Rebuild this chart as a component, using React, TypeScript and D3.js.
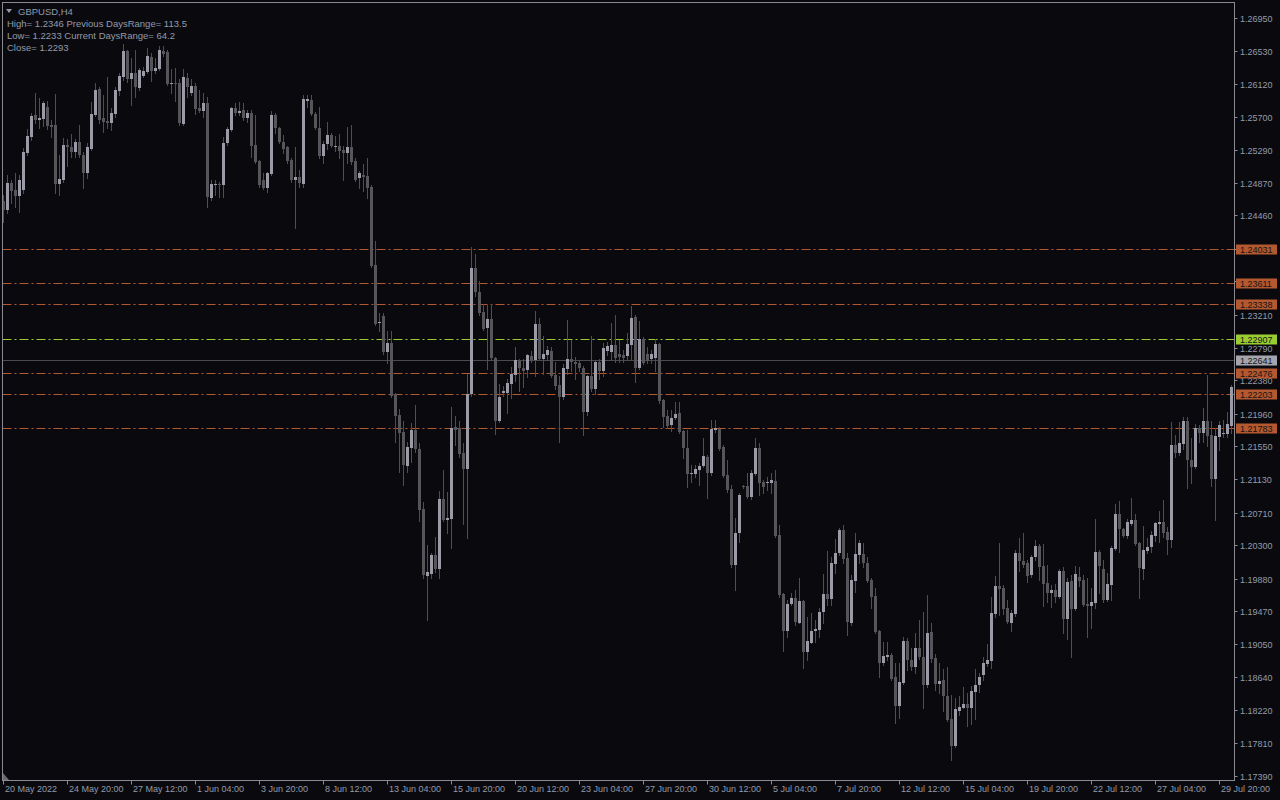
import React from "react";
import * as d3 from "d3";

// ---- DATA (GBPUSD H4 candles) ----
const open = [
1.2464,1.2453,1.2487,1.2478,1.2471,1.2478,1.2525,1.2545,1.2573,1.2566,1.2568,1.2583,1.2560,1.2560,1.2486,1.2491,1.2535,1.2532,1.2526,1.2539,
1.2522,1.2499,1.2530,1.2573,1.2605,1.2569,1.2565,1.2563,1.2574,1.2603,1.2621,1.2653,1.2618,1.2626,1.2607,1.2622,1.2627,1.2646,1.2628,1.2631,
1.2653,1.2652,1.2612,1.2613,1.2613,1.2561,1.2619,1.2600,1.2609,1.2582,1.2578,1.2588,1.2468,1.2484,1.2486,1.2484,1.2537,1.2554,1.2582,1.2575,
1.2579,1.2569,1.2575,1.2535,1.2515,1.2491,1.2481,1.2498,1.2573,1.2556,1.2539,1.2532,1.2516,1.2491,1.2494,1.2486,1.2590,1.2592,1.2574,1.2556,
1.2521,1.2536,1.2547,1.2532,1.2533,1.2529,1.2525,1.2532,1.2515,1.2493,1.2497,1.2496,1.2482,1.2383,1.2310,1.2319,1.2274,1.2285,1.2221,1.2194,
1.2173,1.2130,1.2153,1.2175,1.2151,1.2076,1.1991,1.1994,1.2018,1.2000,1.2088,1.2062,1.2063,1.2179,1.2178,1.2146,1.2126,1.2221,1.2380,1.2349,
1.2324,1.2304,1.2315,1.2266,1.2187,1.2222,1.2222,1.2233,1.2245,1.2262,1.2254,1.2251,1.2269,1.2264,1.2309,1.2265,1.2270,1.2275,1.2245,1.2232,
1.2217,1.2252,1.2265,1.2261,1.2260,1.2254,1.2198,1.2244,1.2227,1.2261,1.2250,1.2275,1.2274,1.2283,1.2271,1.2270,1.2269,1.2283,1.2318,1.2254,
1.2290,1.2271,1.2265,1.2266,1.2284,1.2213,1.2193,1.2182,1.2190,1.2197,1.2174,1.2153,1.2120,1.2120,1.2125,1.2130,1.2141,1.2121,1.2175,1.2177,
1.2154,1.2119,1.2101,1.2005,1.2046,1.2105,1.2105,1.2091,1.2120,1.2153,1.2110,1.2108,1.2108,1.2111,1.2043,1.1969,1.1922,1.1956,1.1964,1.1932,
1.1960,1.1895,1.1907,1.1922,1.1923,1.1946,1.1969,1.1962,1.2006,1.2020,1.2049,1.2014,1.1932,1.1985,1.2018,1.2019,1.2008,1.1986,1.1966,1.1922,
1.1882,1.1889,1.1892,1.1864,1.1827,1.1856,1.1909,1.1885,1.1876,1.1900,1.1889,1.1854,1.1921,1.1888,1.1855,1.1860,1.1840,1.1811,1.1777,1.1821,
1.1825,1.1830,1.1825,1.1845,1.1854,1.1866,1.1880,1.1884,1.1943,1.1979,1.1976,1.1951,1.1932,1.1943,1.2020,1.2010,1.2008,1.1992,1.2015,1.2029,
1.2004,1.1982,1.1970,1.1974,1.1965,1.1997,1.1937,1.1985,1.1950,1.1990,1.1986,1.1956,1.1953,1.1957,1.2022,1.2000,1.1961,1.1980,1.2025,1.2070,
1.2051,1.2042,1.2057,1.2062,1.2033,1.2000,1.2023,1.2028,1.2042,1.2057,1.2059,1.2047,1.2037,1.2157,1.2146,1.2158,1.2187,1.2138,1.2129,1.2178,
1.2172,1.2187,1.2169,1.2114,1.2167,1.2170,1.2170,1.2180
];
const high = [
1.2472,1.2497,1.2491,1.2499,1.2497,1.2531,1.2555,1.2575,1.2600,1.2594,1.2590,1.2590,1.2566,1.2599,1.2522,1.2544,1.2542,1.2549,1.2542,1.2560,
1.2526,1.2537,1.2589,1.2613,1.2608,1.2598,1.2621,1.2582,1.2608,1.2626,1.2662,1.2655,1.2645,1.2655,1.2632,1.2633,1.2657,1.2651,1.2645,1.2660,
1.2660,1.2655,1.2631,1.2632,1.2618,1.2631,1.2626,1.2618,1.2613,1.2604,1.2600,1.2595,1.2491,1.2491,1.2488,1.2545,1.2558,1.2583,1.2588,1.2589,
1.2588,1.2579,1.2579,1.2573,1.2516,1.2499,1.2501,1.2578,1.2575,1.2558,1.2547,1.2534,1.2518,1.2532,1.2503,1.2598,1.2598,1.2598,1.2577,1.2583,
1.2540,1.2564,1.2550,1.2546,1.2549,1.2533,1.2558,1.2560,1.2518,1.2502,1.2511,1.2518,1.2484,1.2414,1.2323,1.2323,1.2300,1.2300,1.2222,1.2202,
1.2187,1.2160,1.2184,1.2207,1.2159,1.2085,1.2030,1.2020,1.2041,1.2098,1.2125,1.2097,1.2204,1.2193,1.2187,1.2159,1.2246,1.2406,1.2397,1.2363,
1.2334,1.2333,1.2334,1.2267,1.2233,1.2231,1.2240,1.2255,1.2280,1.2265,1.2265,1.2271,1.2275,1.2325,1.2317,1.2294,1.2281,1.2280,1.2261,1.2244,
1.2259,1.2314,1.2289,1.2267,1.2264,1.2256,1.2245,1.2294,1.2264,1.2265,1.2285,1.2286,1.2310,1.2320,1.2289,1.2276,1.2298,1.2332,1.2320,1.2313,
1.2293,1.2280,1.2276,1.2290,1.2285,1.2214,1.2201,1.2201,1.2211,1.2211,1.2175,1.2175,1.2131,1.2131,1.2134,1.2165,1.2144,1.2188,1.2188,1.2179,
1.2157,1.2138,1.2106,1.2064,1.2096,1.2106,1.2121,1.2125,1.2165,1.2159,1.2112,1.2116,1.2121,1.2125,1.2056,1.1970,1.1961,1.1970,1.1974,1.1989,
1.1961,1.1940,1.1945,1.1936,1.1951,1.1994,1.2023,1.2015,1.2038,1.2052,1.2056,1.2020,1.1992,1.2046,1.2037,1.2033,1.2015,1.1989,1.1976,1.1923,
1.1908,1.1908,1.1894,1.1882,1.1882,1.1914,1.1913,1.1900,1.1919,1.1936,1.1946,1.1967,1.1932,1.1893,1.1882,1.1874,1.1877,1.1841,1.1837,1.1840,
1.1851,1.1844,1.1852,1.1874,1.1869,1.1889,1.1906,1.1965,1.1991,1.2033,1.1980,1.1961,1.1948,1.2024,1.2039,1.2046,1.2011,1.2018,1.2037,1.2032,
1.2032,1.2005,1.1980,1.1981,1.2000,1.2003,1.1989,1.1993,1.2004,1.2003,1.1993,1.1989,1.1976,1.2063,1.2024,1.2011,1.1995,1.2029,1.2082,1.2086,
1.2052,1.2063,1.2090,1.2070,1.2034,1.2054,1.2039,1.2048,1.2059,1.2073,1.2087,1.2053,1.2186,1.2169,1.2186,1.2192,1.2192,1.2165,1.2183,1.2182,
1.2203,1.2245,1.2187,1.2178,1.2187,1.2188,1.2198,1.2232
];
const low = [
1.2438,1.2449,1.2462,1.2457,1.2450,1.2474,1.2522,1.2541,1.2563,1.2556,1.2559,1.2555,1.2545,1.2474,1.2472,1.2488,1.2508,1.2520,1.2520,1.2520,
1.2481,1.2493,1.2529,1.2571,1.2563,1.2551,1.2556,1.2554,1.2570,1.2598,1.2617,1.2614,1.2585,1.2595,1.2604,1.2621,1.2626,1.2616,1.2626,1.2629,
1.2647,1.2611,1.2600,1.2590,1.2560,1.2560,1.2595,1.2598,1.2574,1.2577,1.2570,1.2457,1.2466,1.2472,1.2469,1.2469,1.2535,1.2552,1.2573,1.2573,
1.2566,1.2564,1.2520,1.2512,1.2482,1.2479,1.2476,1.2497,1.2550,1.2537,1.2525,1.2512,1.2488,1.2430,1.2482,1.2482,1.2583,1.2573,1.2555,1.2518,
1.2512,1.2530,1.2532,1.2527,1.2518,1.2491,1.2512,1.2511,1.2489,1.2481,1.2477,1.2468,1.2381,1.2308,1.2300,1.2271,1.2260,1.2217,1.2160,1.2122,
1.2106,1.2122,1.2135,1.2148,1.2061,1.1989,1.1936,1.1989,1.1996,1.1989,1.2061,1.2045,1.2027,1.2156,1.2141,1.2057,1.2039,1.2218,1.2344,1.2320,
1.2301,1.2252,1.2265,1.2170,1.2185,1.2218,1.2197,1.2216,1.2237,1.2224,1.2230,1.2242,1.2261,1.2243,1.2264,1.2246,1.2264,1.2242,1.2227,1.2160,
1.2214,1.2246,1.2250,1.2240,1.2250,1.2169,1.2194,1.2225,1.2221,1.2240,1.2244,1.2270,1.2264,1.2261,1.2261,1.2261,1.2264,1.2264,1.2236,1.2252,
1.2259,1.2260,1.2260,1.2250,1.2209,1.2179,1.2178,1.2174,1.2189,1.2172,1.2140,1.2104,1.2110,1.2116,1.2106,1.2129,1.2090,1.2119,1.2173,1.2150,
1.2116,1.2097,1.2003,1.1974,1.2034,1.2102,1.2090,1.2088,1.2119,1.2093,1.2096,1.2100,1.2096,1.2041,1.1965,1.1897,1.1914,1.1955,1.1930,1.1932,
1.1875,1.1885,1.1907,1.1908,1.1914,1.1932,1.1955,1.1955,1.1995,1.2018,1.2008,1.1917,1.1930,1.1971,1.2008,1.2003,1.1984,1.1951,1.1919,1.1864,
1.1879,1.1885,1.1860,1.1806,1.1812,1.1855,1.1873,1.1873,1.1869,1.1887,1.1825,1.1851,1.1883,1.1848,1.1844,1.1821,1.1808,1.1759,1.1776,1.1816,
1.1825,1.1802,1.1805,1.1811,1.1845,1.1860,1.1878,1.1875,1.1940,1.1942,1.1943,1.1932,1.1922,1.1941,1.1997,1.2003,1.1984,1.1990,1.2011,1.1986,
1.1953,1.1959,1.1952,1.1959,1.1963,1.1919,1.1912,1.1889,1.1948,1.1979,1.1953,1.1914,1.1926,1.1951,1.1970,1.1959,1.1960,1.1961,1.2024,1.2022,
1.2041,1.2039,1.2056,1.2030,1.1964,1.1987,1.2020,1.2022,1.2035,1.2034,1.2041,1.2019,1.2028,1.2141,1.2144,1.2151,1.2102,1.2108,1.2127,1.2160,
1.2160,1.2155,1.2105,1.2062,1.2150,1.2167,1.2167,1.2172
];
const close = [
1.2453,1.2487,1.2477,1.2471,1.2491,1.2526,1.2546,1.2571,1.2566,1.2569,1.2588,1.2559,1.2558,1.2486,1.2492,1.2535,1.2532,1.2526,1.2539,1.2522,
1.2499,1.2532,1.2574,1.2604,1.2566,1.2564,1.2563,1.2575,1.2604,1.2622,1.2653,1.2618,1.2626,1.2608,1.2629,1.2628,1.2647,1.2628,1.2632,1.2655,
1.2650,1.2612,1.2613,1.2612,1.2563,1.2621,1.2608,1.2609,1.2580,1.2578,1.2588,1.2469,1.2486,1.2486,1.2484,1.2537,1.2555,1.2582,1.2575,1.2578,
1.2569,1.2575,1.2533,1.2513,1.2484,1.2481,1.2499,1.2573,1.2556,1.2539,1.2530,1.2515,1.2491,1.2494,1.2487,1.2593,1.2593,1.2574,1.2556,1.2521,
1.2536,1.2547,1.2533,1.2533,1.2527,1.2525,1.2532,1.2513,1.2491,1.2499,1.2494,1.2481,1.2382,1.2309,1.2312,1.2274,1.2285,1.2218,1.2193,1.2172,
1.2131,1.2154,1.2175,1.2151,1.2074,1.1992,1.1996,1.2018,1.2000,1.2088,1.2062,1.2064,1.2178,1.2175,1.2145,1.2126,1.2221,1.2380,1.2349,1.2323,
1.2303,1.2315,1.2266,1.2187,1.2217,1.2224,1.2235,1.2246,1.2264,1.2254,1.2250,1.2270,1.2264,1.2309,1.2265,1.2271,1.2276,1.2244,1.2231,1.2217,
1.2254,1.2265,1.2261,1.2259,1.2254,1.2198,1.2244,1.2227,1.2261,1.2250,1.2279,1.2281,1.2283,1.2266,1.2267,1.2266,1.2284,1.2317,1.2254,1.2290,
1.2260,1.2262,1.2271,1.2284,1.2212,1.2192,1.2180,1.2190,1.2196,1.2173,1.2153,1.2120,1.2121,1.2126,1.2130,1.2143,1.2121,1.2177,1.2178,1.2151,
1.2117,1.2100,1.2005,1.2046,1.2093,1.2103,1.2091,1.2121,1.2153,1.2109,1.2103,1.2110,1.2112,1.2042,1.1967,1.1922,1.1956,1.1964,1.1933,1.1960,
1.1895,1.1909,1.1922,1.1924,1.1946,1.1969,1.1962,1.2008,1.2020,1.2049,1.2013,1.1933,1.1986,1.2019,1.2033,1.2008,1.1985,1.1965,1.1921,1.1882,
1.1890,1.1892,1.1861,1.1827,1.1858,1.1909,1.1885,1.1876,1.1900,1.1889,1.1854,1.1919,1.1887,1.1855,1.1859,1.1840,1.1810,1.1777,1.1824,1.1826,
1.1830,1.1825,1.1846,1.1854,1.1864,1.1882,1.1885,1.1945,1.1979,1.1975,1.1950,1.1933,1.1945,1.2020,1.2010,1.2005,1.1991,1.2015,1.2029,1.2003,
1.1981,1.1970,1.1974,1.1965,1.1997,1.1937,1.1984,1.1950,1.1994,1.1985,1.1955,1.1953,1.1959,1.2022,1.2004,1.1961,1.1981,1.2027,1.2070,1.2051,
1.2042,1.2059,1.2062,1.2032,1.2001,1.2024,1.2028,1.2043,1.2058,1.2059,1.2046,1.2037,1.2157,1.2146,1.2159,1.2187,1.2138,1.2129,1.2178,1.2172,
1.2187,1.2168,1.2114,1.2168,1.2182,1.2172,1.2183,1.2230
];

const timeLabels = [
  "20 May 2022", "24 May 20:00", "27 May 12:00", "1 Jun 04:00", "3 Jun 20:00",
  "8 Jun 12:00", "13 Jun 04:00", "15 Jun 20:00", "20 Jun 12:00", "23 Jun 04:00",
  "27 Jun 20:00", "30 Jun 12:00", "5 Jul 04:00", "7 Jul 20:00", "12 Jul 12:00",
  "15 Jul 04:00", "19 Jul 20:00", "22 Jul 12:00", "27 Jul 04:00", "29 Jul 20:00",
];
const barsPerTimeLabel = 16;

const priceTicks = [
  1.2695, 1.2653, 1.2612, 1.257, 1.2529, 1.2487, 1.2446, 1.2404, 1.2363, 1.2321,
  1.2279, 1.2238, 1.2196, 1.2155, 1.2113, 1.2071, 1.203, 1.1988, 1.1947, 1.1905,
  1.1864, 1.1822, 1.1781, 1.1739,
];

const levelPrices = [1.24031, 1.23611, 1.23338, 1.22907, 1.22476, 1.22203, 1.21783];
const levelKinds = ["r", "r", "r", "g", "r", "r", "r"];
const bidPrice = 1.22641;

const symbolTitle = "GBPUSD,H4";
const infoLines = [
  "High= 1.2346 Previous DaysRange= 113.5",
  "Low= 1.2233 Current DaysRange= 64.2",
  "Close= 1.2293",
];

// ---- STYLE ----
const BG = "#0a0a0e";
const FRAME = "#8a8a92";
const TEXT = "#929aab";
const BULL = "#9b9ba7";
const BEAR = "#55555a";
const WICK = "#4e4e54";
const ORANGE = "#b4582f";
const GREEN = "#9acd32";
const BID = "#4a4a50";
const BIDTAG = "#a5a5ad";
const FONT = "'Liberation Sans', Arial, sans-serif";

export default function App() {
  const W = 1280, H = 800;
  const left = 2.5, right = 1234.5, top = 2.5, bottom = 780.5;
  const n = close.length;

  const x = d3.scaleLinear().domain([0, n - 1]).range([3.5, 3.5 + 4 * (n - 1)]);
  const y = d3.scaleLinear().domain([1.1739, 1.2695]).range([776, 18]);
  const py = (p: number) => Math.round(y(p));

  const candles = d3.range(n).map((i) => {
    const o = open[i], c = close[i], hi = high[i], lo = low[i];
    const bull = c >= o;
    const yt = py(Math.max(o, c));
    const yb = py(Math.min(o, c));
    const cx = x(i);
    return (
      <g key={i}>
        <line x1={cx} x2={cx} y1={py(hi)} y2={py(lo) + 1} stroke={WICK} strokeWidth={1} />
        <rect x={cx - 1.5} y={yt} width={3} height={Math.max(1, yb - yt)} fill={bull ? BULL : BEAR} />
      </g>
    );
  });

  const dash = "9,3,2,3";

  return (
    <svg width={W} height={H} style={{ display: "block", position: "absolute", left: 0, top: 0, background: BG }} fontFamily={FONT}>
      <rect x={0} y={0} width={W} height={H} fill={BG} />
      {/* level lines */}
      {levelPrices.map((p, i) => (
        <line key={"lv" + i} x1={left} x2={right} y1={py(p) + 0.5} y2={py(p) + 0.5}
          stroke={levelKinds[i] === "g" ? GREEN : ORANGE} strokeWidth={1} strokeDasharray={dash} />
      ))}
      <line x1={left} x2={right} y1={py(bidPrice) + 0.5} y2={py(bidPrice) + 0.5} stroke={BID} strokeWidth={1} />
      {candles}
      {/* frame */}
      <rect x={left} y={top} width={right - left} height={bottom - top} fill="none" stroke={FRAME} strokeWidth={1} />
      {/* price axis */}
      {priceTicks.map((p, i) => (
        <g key={"pt" + i}>
          <line x1={right} x2={right + 3} y1={py(p) + 0.5} y2={py(p) + 0.5} stroke={FRAME} />
          <text x={1240} y={py(p) + 0.5} dy="0.35em" fontSize={9} fill={TEXT}>{p.toFixed(5)}</text>
        </g>
      ))}
      {/* level tags */}
      {levelPrices.map((p, i) => (
        <g key={"tg" + i}>
          <rect x={1236} y={py(p) - 4.5} width={41} height={10} fill={levelKinds[i] === "g" ? GREEN : ORANGE} />
          <text x={1240} y={py(p) + 0.5} dy="0.35em" fontSize={9} fill="#141414">{p.toFixed(5)}</text>
        </g>
      ))}
      <g>
        <rect x={1236} y={py(bidPrice) - 4.5} width={41} height={10} fill={BIDTAG} />
        <text x={1240} y={py(bidPrice) + 0.5} dy="0.35em" fontSize={9} fill="#141414">{bidPrice.toFixed(5)}</text>
      </g>
      {/* time axis */}
      {timeLabels.map((t, i) => {
        const tx = x(i * barsPerTimeLabel);
        return (
          <g key={"tl" + i}>
            <line x1={tx} x2={tx} y1={bottom} y2={bottom + 4} stroke={FRAME} />
            <text x={tx + 1.5} y={791.5} fontSize={9} fill={TEXT}>{t}</text>
          </g>
        );
      })}
      <polygon points="3,773 3,780 9,780" fill="#6a6a72" />
      {/* header */}
      <polygon points="6,9 12,9 9,13" fill={TEXT} />
      <text x={18} y={14.5} fontSize={9.5} fill={TEXT}>{symbolTitle}</text>
      {infoLines.map((s, i) => (
        <text key={"il" + i} x={7} y={27 + i * 11.8} fontSize={9.5} fill={TEXT}>{s}</text>
      ))}
    </svg>
  );
}
